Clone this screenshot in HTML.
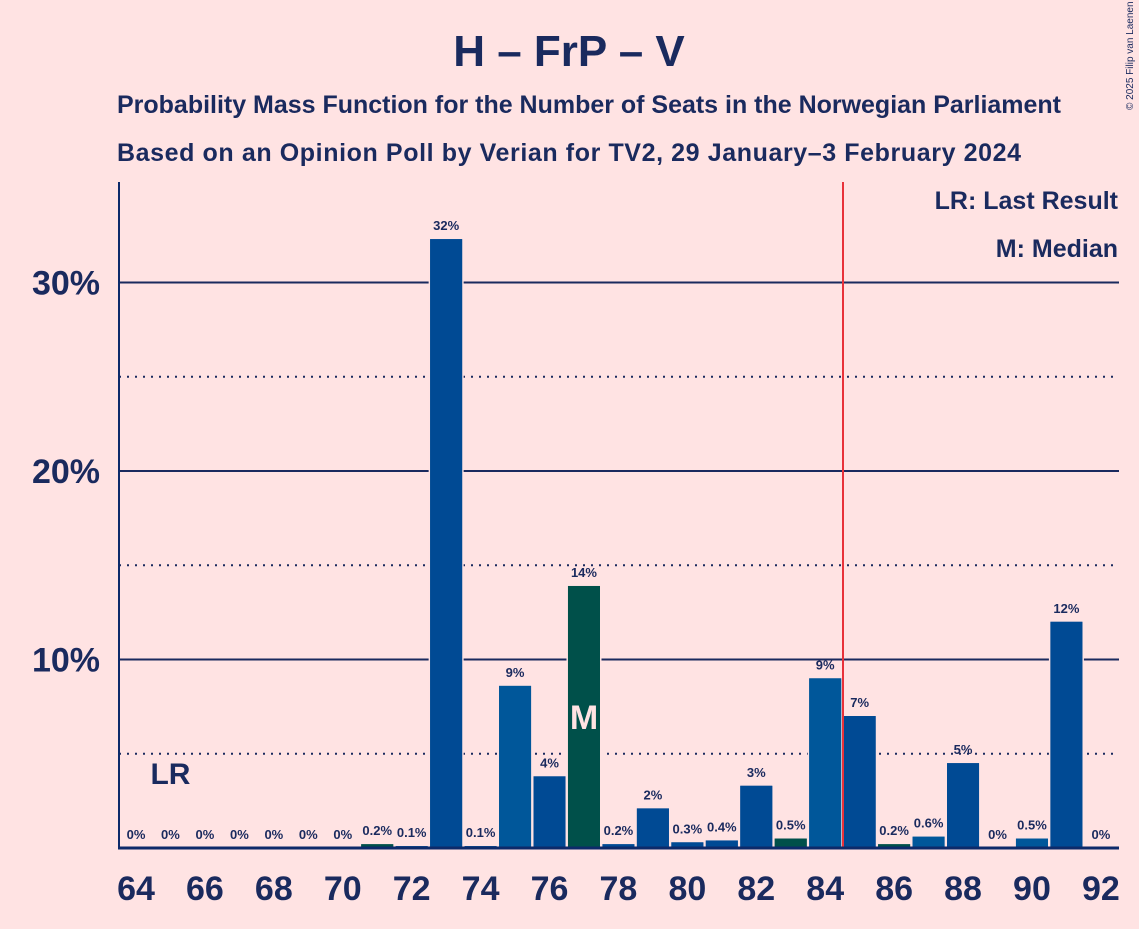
<!DOCTYPE html>
<html><head><meta charset="utf-8"><style>
html,body{margin:0;padding:0;background:#ffe3e3;}
svg text{font-family:"Liberation Sans",sans-serif;fill:#1a2a5e;}
</style></head><body>
<svg width="1139" height="924" viewBox="0 0 1139 924">
<rect width="1139" height="924" fill="#ffe3e3"/>
<text x="569" y="66" text-anchor="middle" font-size="44" font-weight="bold">H – FrP – V</text>
<text x="589" y="113" text-anchor="middle" font-size="25" font-weight="bold" textLength="944">Probability Mass Function for the Number of Seats in the Norwegian Parliament</text>
<text x="569" y="161" text-anchor="middle" font-size="25" font-weight="bold" textLength="904">Based on an Opinion Poll by Verian for TV2, 29 January–3 February 2024</text>
<text x="1133" y="110" font-size="10" transform="rotate(-90 1133 110)">© 2025 Filip van Laenen</text>
<g id="grid"></g>
<g id="bars"></g>
<line x1="843" y1="182" x2="843" y2="848" stroke="#e8323a" stroke-width="2"/>
<line x1="119" y1="182" x2="119" y2="849" stroke="#0d2a6a" stroke-width="2"/>
<line x1="118" y1="848" x2="1119" y2="848" stroke="#0d2a6a" stroke-width="3"/>
<g id="labels"></g>
<text x="1118" y="209" text-anchor="end" font-size="25" font-weight="bold">LR: Last Result</text>
<text x="1118" y="257" text-anchor="end" font-size="25" font-weight="bold">M: Median</text>
</svg>
<script>
const seats=[64,65,66,67,68,69,70,71,72,73,74,75,76,77,78,79,80,81,82,83,84,85,86,87,88,89,90,91,92];
const values=[0,0,0,0,0,0,0,0.2,0.1,32.3,0.1,8.6,3.8,13.9,0.2,2.1,0.3,0.4,3.3,0.5,9.0,7.0,0.2,0.6,4.5,0,0.5,12.0,0];
const valueLabels=["0%","0%","0%","0%","0%","0%","0%","0.2%","0.1%","32%","0.1%","9%","4%","14%","0.2%","2%","0.3%","0.4%","3%","0.5%","9%","7%","0.2%","0.6%","5%","0%","0.5%","12%","0%"];
const yTicks=[10,20,30];
const yMinor=[5,15,25];
const xTicks=[64,66,68,70,72,74,76,78,80,82,84,86,88,90,92];
const medianSeat=77, lastResult=65;
const greenSeats=[71,77,83,86];
const lightSeats=[75,84,87,90];
const NS="http://www.w3.org/2000/svg";
function xs(s){return 136+(s-64)*34.46;}
function ys(v){return 848-v*18.85;}
function mk(t,a,p){const e=document.createElementNS(NS,t);for(const k in a)e.setAttribute(k,a[k]);p.appendChild(e);return e;}
const grid=document.getElementById('grid'),bars=document.getElementById('bars'),labels=document.getElementById('labels');
yMinor.forEach(v=>{const l=mk('line',{x1:119,x2:1119,y1:ys(v),y2:ys(v),stroke:'#1a2a5e','stroke-width':2,'stroke-dasharray':'2,6'},grid);

});
yTicks.forEach(v=>{const l=mk('line',{x1:119,x2:1119,y1:ys(v),y2:ys(v),stroke:'#1a2a5e','stroke-width':2},grid);


const t=mk('text',{x:100,y:ys(v)+12,'text-anchor':'end','font-size':34,'font-weight':'bold'},labels);t.textContent=v+'%';

});
seats.forEach((s,i)=>{const v=values[i];
let col=greenSeats.includes(s)?'#00504a':(lightSeats.includes(s)?'#00579a':'#004a94');
if(v>0){const r=mk('rect',{x:xs(s)-16,y:ys(v),width:32,height:848-ys(v),fill:col,stroke:'#ffe3e3','stroke-width':3,'paint-order':'stroke'},bars);


const r2=mk('rect',{x:xs(s)-16,y:ys(v),width:32,height:848-ys(v),fill:col},bars);

}
const ly=Math.min(840,ys(v)-9);
const t=mk('text',{x:xs(s),y:ly,'text-anchor':'middle','font-size':13,'font-weight':'bold'},labels);t.textContent=valueLabels[i];


if(s===medianSeat){const m=mk('text',{x:xs(s),y:ys(v/2)+12,'text-anchor':'middle','font-size':34,'font-weight':'bold',style:'fill:#ffe3e3'},labels);m.textContent='M';

}
if(s===lastResult){const m=mk('text',{x:xs(s),y:784,'text-anchor':'middle','font-size':30,'font-weight':'bold'},labels);m.textContent='LR';

}
});
xTicks.forEach(s=>{const t=mk('text',{x:xs(s),y:900,'text-anchor':'middle','font-size':34,'font-weight':'bold'},labels);t.textContent=s;

});
</script>
</body></html>
